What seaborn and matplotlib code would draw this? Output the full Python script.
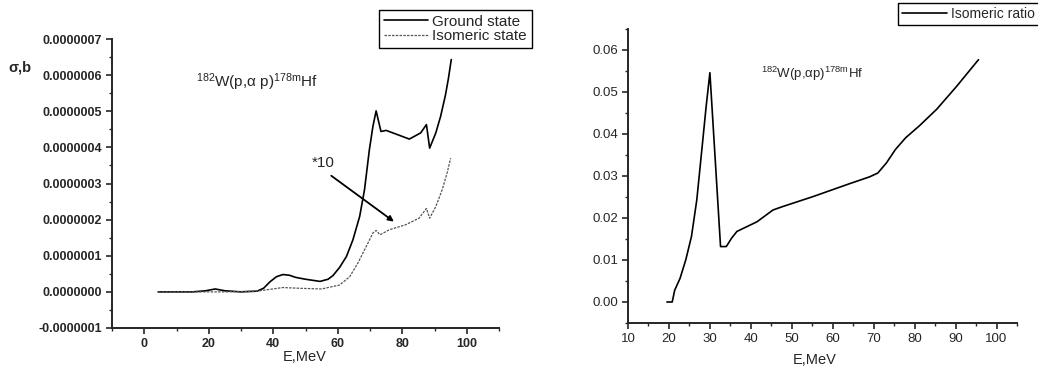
import numpy as np
import pandas as pd
import matplotlib
matplotlib.use("Agg")
import matplotlib.pyplot as plt
from matplotlib.ticker import MultipleLocator, FuncFormatter
import seaborn as sns

# ---- data ----
E_ground = [4.3, 10, 15, 19, 22, 25, 30, 35, 37, 39, 41, 43, 45, 47, 50, 54.5, 57, 58.5,
            60.6, 62.7, 64.7, 66.8, 68.3, 69.8, 70.9, 71.9, 73.4, 75, 78.6, 82.2, 85.7,
            87.5, 88.5, 90.4, 91.9, 93.4, 94.3, 95.2]
sigma_ground = [0.0, 0.0, 0.0, 0.03e-7, 0.08e-7, 0.03e-7, 0.0, 0.02e-7, 0.1e-7, 0.28e-7,
                0.42e-7, 0.48e-7, 0.46e-7, 0.40e-7, 0.35e-7, 0.29e-7, 0.35e-7, 0.45e-7,
                0.68e-7, 0.98e-7, 1.44e-7, 2.09e-7, 2.83e-7, 3.93e-7, 4.58e-7, 5.01e-7,
                4.44e-7, 4.47e-7, 4.35e-7, 4.23e-7, 4.4e-7, 4.63e-7, 3.98e-7, 4.4e-7,
                4.86e-7, 5.45e-7, 5.9e-7, 6.43e-7]

E_iso = [4.3, 15, 25, 35, 39, 43, 48, 55, 58.5, 60.6, 63.7, 66.2, 68.8, 70.9, 71.9,
         73.1, 76, 81.1, 85.2, 87.5, 88.5, 90.4, 92.4, 93.9, 95.0]
sigma_iso = [0.0, 0.0, 0.0, 0.02e-7, 0.07e-7, 0.12e-7, 0.1e-7, 0.08e-7, 0.15e-7, 0.19e-7,
             0.42e-7, 0.79e-7, 1.25e-7, 1.63e-7, 1.70e-7, 1.58e-7, 1.72e-7, 1.86e-7,
             2.04e-7, 2.31e-7, 2.04e-7, 2.36e-7, 2.83e-7, 3.29e-7, 3.7e-7]

E_ratio = [19.5, 20.8, 21.4, 22.7, 24.1, 25.5, 26.8, 28.2, 29.1, 30, 31.3, 32.6, 34.0,
           35.3, 36.6, 38.3, 41.5, 45.4, 47.7, 55.2, 63.9, 69, 71.0, 73.1, 75.3, 77.8,
           81.1, 85.4, 90.3, 95.6]
ratio = [0.0, 0.0, 0.0028, 0.0056, 0.010, 0.0156, 0.0243, 0.0379, 0.0467, 0.0546, 0.0339,
         0.0132, 0.0132, 0.0152, 0.0168, 0.0176, 0.0191, 0.0219, 0.0227, 0.0251, 0.0281,
         0.0298, 0.0307, 0.0331, 0.0363, 0.0391, 0.0419, 0.0459, 0.0514, 0.0577]

left_xticks = [0, 20, 40, 60, 80, 100]
left_yticks = [-1e-7, 0, 1e-7, 2e-7, 3e-7, 4e-7, 5e-7, 6e-7, 7e-7]
right_xticks = [10, 20, 30, 40, 50, 60, 70, 80, 90, 100]
right_yticks = [0.0, 0.01, 0.02, 0.03, 0.04, 0.05, 0.06]

reaction = r"$^{182}$W(p,$\alpha$ p)$^{178m}$Hf"
reaction2 = r"$^{182}$W(p,$\alpha$p)$^{178m}$Hf"

# ---- style ----
sns.set_style("ticks")
plt.rcParams['font.family'] = ['Liberation Sans', 'DejaVu Sans']
plt.rcParams['mathtext.fontset'] = 'custom'
plt.rcParams['mathtext.rm'] = 'Liberation Sans'
plt.rcParams['mathtext.it'] = 'Liberation Sans'
plt.rcParams['axes.linewidth'] = 1.4

fig = plt.figure(figsize=(10.38, 3.73), dpi=100)
ax1 = fig.add_axes([112/1038, 45/373, 387/1038, 289/373])
ax2 = fig.add_axes([628/1038, 50/373, 389/1038, 294/373])

df_g = pd.DataFrame({"E": E_ground, "s": sigma_ground})
df_i = pd.DataFrame({"E": E_iso, "s": sigma_iso})
df_r = pd.DataFrame({"E": E_ratio, "r": ratio})

sns.lineplot(data=df_g, x="E", y="s", ax=ax1, color="black", lw=1.2,
             estimator=None, sort=False, label="Ground state")
sns.lineplot(data=df_i, x="E", y="s", ax=ax1, color="#555555", lw=0.9,
             linestyle=(0, (2, 1)), estimator=None, sort=False, label="Isomeric state")
sns.lineplot(data=df_r, x="E", y="r", ax=ax2, color="black", lw=1.2,
             estimator=None, sort=False, label="Isomeric ratio")

for ax in (ax1, ax2):
    sns.despine(ax=ax)
    ax.set_xlabel("")
    ax.set_ylabel("")
    ax.tick_params(which="major", direction="out", length=4, width=1.2, pad=3)
    ax.tick_params(which="minor", direction="out", length=2.5, width=1.0)

# left axes
ax1.set_xlim(-10, 110)
ax1.set_ylim(-1e-7, 7e-7)
ax1.set_xticks(left_xticks)
ax1.set_yticks(left_yticks)
ax1.xaxis.set_minor_locator(MultipleLocator(10))
ax1.yaxis.set_minor_locator(MultipleLocator(0.5e-7))
ax1.yaxis.set_major_formatter(FuncFormatter(lambda v, p: f"{v:.7f}"))
for lab in ax1.get_xticklabels() + ax1.get_yticklabels():
    lab.set_fontsize(9)
    lab.set_fontweight("bold")
ax1.legend_.remove()

ax1.text(16, 5.8e-7, reaction, fontsize=11, va="center", ha="left")
ax1.text(52, 3.57e-7, "*10", fontsize=11, va="center", ha="left")
ax1.annotate("", xy=(78.1, 1.9e-7), xytext=(57.3, 3.26e-7),
             arrowprops=dict(arrowstyle="-|>", color="black", lw=1.3,
                             mutation_scale=8))

# right axes
ax2.set_xlim(10, 105)
ax2.set_ylim(-0.005, 0.065)
ax2.set_xticks(right_xticks)
ax2.set_yticks(right_yticks)
ax2.xaxis.set_minor_locator(MultipleLocator(5))
ax2.yaxis.set_minor_locator(MultipleLocator(0.005))
ax2.yaxis.set_major_formatter(FuncFormatter(lambda v, p: f"{v:.2f}"))
for lab in ax2.get_xticklabels() + ax2.get_yticklabels():
    lab.set_fontsize(9.5)
ax2.legend_.remove()
ax2.text(42.4, 0.0542, reaction2, fontsize=9.5, va="center", ha="left")

# axis labels
fig.text(8/1038, 1 - 67/373, "σ,b", fontsize=10.5, fontweight="bold",
         ha="left", va="center")
fig.text(305/1038, 1 - 357/373, "E,MeV", fontsize=10.5, ha="center", va="center")
fig.text(815/1038, 1 - 360/373, "E,MeV", fontsize=10.5, ha="center", va="center")

# legends
h1, l1 = ax1.get_legend_handles_labels()
leg1 = fig.legend(h1, l1, loc="upper left", bbox_to_anchor=(379/1038, 1 - 10/373),
                  frameon=True, fancybox=False, edgecolor="black", framealpha=1,
                  fontsize=11, handlelength=2.9, handletextpad=0.3, borderpad=0.3,
                  labelspacing=0.05, borderaxespad=0)
leg1.get_frame().set_linewidth(1.0)
h2, l2 = ax2.get_legend_handles_labels()
leg2 = fig.legend(h2, l2, loc="upper left", bbox_to_anchor=(898/1038, 1 - 3/373),
                  frameon=True, fancybox=False, edgecolor="black", framealpha=1,
                  fontsize=10, handlelength=3.2, handletextpad=0.3, borderpad=0.3,
                  borderaxespad=0)
leg2.get_frame().set_linewidth(1.0)

fig.savefig("out.png", dpi=100)
